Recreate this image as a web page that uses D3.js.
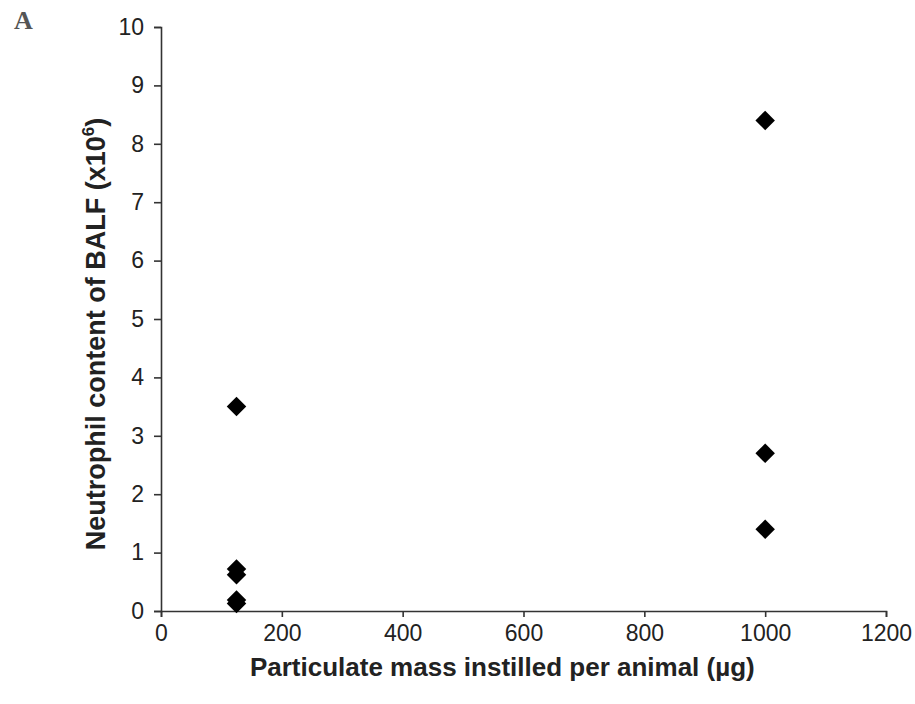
<!DOCTYPE html>
<html>
<head>
<meta charset="utf-8">
<style>
body { margin: 0; background: #fff; }
svg text { font-family: "Liberation Sans", Arial, sans-serif; }
.axis path, .axis line { stroke: #333; stroke-width: 1.6; }
.axis text { font-size: 23px; fill: #222; }
</style>
</head>
<body>
<svg id="chart" width="915" height="704"></svg>
<script src="https://d3js.org/d3.v7.min.js"></script>
<script>

// particulate mass (ug) and neutrophil count (x10^6)
const massValues = [125, 125, 125, 125, 125, 1000, 1000, 1000];
const neutrophilValues = [3.5, 0.72, 0.62, 0.19, 0.13, 8.4, 2.7, 1.4];
const xTicks = [0, 200, 400, 600, 800, 1000, 1200];
const yTicks = [0, 1, 2, 3, 4, 5, 6, 7, 8, 9, 10];

const points = massValues.map((m, i) => ({ x: m, y: neutrophilValues[i] }));

let margin = {top: 27, right: 29, bottom: 93, left: 161},
    width = 915 - margin.left - margin.right,
    height = 704 - margin.top - margin.bottom;

let svg = d3.select("#chart");

// panel letter
svg.append("text")
    .attr("x", 14)
    .attr("y", 29)
    .style("font-family", "'Liberation Serif', 'Times New Roman', serif")
    .style("font-weight", "bold")
    .style("font-size", "26px")
    .attr("fill", "#555")
    .text("A");

let chart = svg.append("g")
    .attr("transform", "translate(" + margin.left + "," + margin.top + ")");

let xScale = d3.scaleLinear().domain([0, 1200]).range([0, width]);
let yScale = d3.scaleLinear().domain([0, 10]).range([height, 0]);

chart.append("g")
    .attr("class", "axis axis-x")
    .attr("transform", "translate(0," + height + ")")
    .call(d3.axisBottom(xScale).tickValues(xTicks).tickFormat(d3.format("d"))
        .tickSize(6).tickSizeOuter(6).tickPadding(8));

chart.append("g")
    .attr("class", "axis axis-y")
    .call(d3.axisLeft(yScale).tickValues(yTicks).tickFormat(d3.format("d"))
        .tickSize(7).tickSizeOuter(7).tickPadding(10));

// diamonds
chart.selectAll("path.pt")
    .data(points)
    .join("path")
    .attr("class", "pt")
    .attr("d", d3.symbol(d3.symbolSquare, 190)())
    .attr("transform", d => "translate(" + xScale(d.x) + "," + yScale(d.y) + ") rotate(45)")
    .attr("fill", "#000");

// axis titles
svg.append("text")
    .attr("x", margin.left + xScale(565))
    .attr("y", 676)
    .attr("text-anchor", "middle")
    .style("font-weight", "bold")
    .style("font-size", "26px")
    .attr("fill", "#222")
    .text("Particulate mass instilled per animal (\u00b5g)");

let yt = svg.append("text")
    .attr("transform", "translate(105," + 334 + ") rotate(-90)")
    .attr("text-anchor", "middle")
    .style("font-weight", "bold")
    .style("font-size", "27px")
    .attr("fill", "#222");
yt.append("tspan").text("Neutrophil content of BALF (x10");
yt.append("tspan").attr("dy", -11).style("font-size", "17px").text("6");
yt.append("tspan").attr("dy", 11).text(")");

</script>
</body>
</html>
